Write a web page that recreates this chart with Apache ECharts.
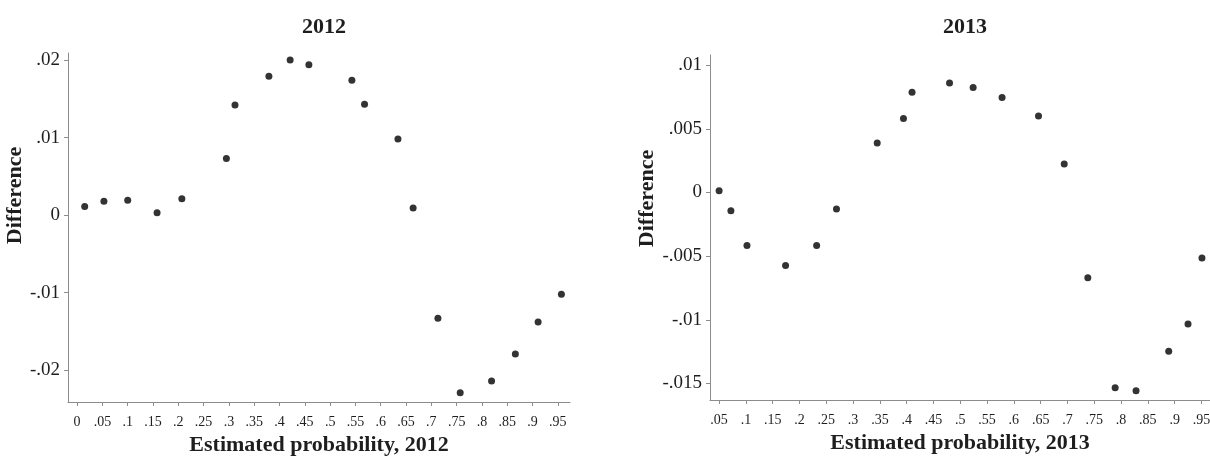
<!DOCTYPE html>
<html>
<head>
<meta charset="utf-8">
<script src="https://cdn.jsdelivr.net/npm/echarts@6/dist/echarts.min.js"></script>
<style>
  html, body { margin: 0; padding: 0; background: #ffffff; }
  #chart { width: 1210px; height: 456px; }
</style>
</head>
<body>
<div id="chart"></div>
<script>
// Difference by estimated probability, 2012
const prob2012 = [0.015, 0.053, 0.100, 0.158, 0.207, 0.295, 0.312, 0.379, 0.421, 0.458,
                  0.543, 0.568, 0.634, 0.664, 0.713, 0.757, 0.819, 0.866, 0.911, 0.957];
const diff2012 = [0.0011, 0.0018, 0.0019, 0.0003, 0.0021, 0.0073, 0.0142, 0.0179, 0.0200, 0.0194,
                  0.0174, 0.0143, 0.0098, 0.0009, -0.0133, -0.0229, -0.0214, -0.0179, -0.0138, -0.0102];

// Difference by estimated probability, 2013
const prob2013 = [0.050, 0.072, 0.102, 0.174, 0.232, 0.269, 0.345, 0.394, 0.410, 0.480,
                  0.524, 0.578, 0.646, 0.694, 0.738, 0.789, 0.828, 0.889, 0.925, 0.951];
const diff2013 = [0.00013, -0.00144, -0.00416, -0.00573, -0.00416, -0.0013, 0.00388, 0.00581, 0.00788, 0.00861,
                  0.00824, 0.00746, 0.0060, 0.00223, -0.0067, -0.01533, -0.01557, -0.01248, -0.01033, -0.00515];

// Tick positions
const xTicks2012 = [0, 0.05, 0.1, 0.15, 0.2, 0.25, 0.3, 0.35, 0.4, 0.45, 0.5, 0.55, 0.6, 0.65, 0.7, 0.75, 0.8, 0.85, 0.9, 0.95];
const yTicks2012 = [-0.02, -0.01, 0, 0.01, 0.02];
const xTicks2013 = [0.05, 0.1, 0.15, 0.2, 0.25, 0.3, 0.35, 0.4, 0.45, 0.5, 0.55, 0.6, 0.65, 0.7, 0.75, 0.8, 0.85, 0.9, 0.95];
const yTicks2013 = [-0.015, -0.01, -0.005, 0, 0.005, 0.01];

const FONT = '"Liberation Serif", "DejaVu Serif", serif';
const AXIS_COLOR = '#8c8c8c';
const TEXT_COLOR = '#1e1e1e';

// Drop the leading zero: 0.05 -> .05, -0.01 -> -.01
function fmt(v) {
  const s = String(+(+v).toFixed(4));
  return s.replace(/^(-?)0\./, '$1.');
}

function xAxisFor(idx, ticks, min, max, name) {
  return {
    type: 'value', gridIndex: idx, min: min, max: max,
    name: name, nameLocation: 'middle', nameGap: 31,
    nameTextStyle: { fontFamily: FONT, fontWeight: 'bold', fontSize: 22, color: TEXT_COLOR },
    axisLine: { show: true, onZero: false, lineStyle: { color: AXIS_COLOR, width: 1 } },
    axisTick: { show: true, length: 4, customValues: ticks, lineStyle: { color: AXIS_COLOR } },
    axisLabel: { customValues: ticks, formatter: fmt, margin: 13, fontFamily: FONT, fontSize: 14, color: TEXT_COLOR },
    splitLine: { show: false }
  };
}

function yAxisFor(idx, ticks, min, max, gap, shift) {
  return {
    type: 'value', gridIndex: idx, min: min, max: max,
    name: 'Difference', nameLocation: 'middle', nameGap: gap, nameRotate: 90,
    nameTextStyle: { fontFamily: FONT, fontWeight: 'bold', fontSize: 22, color: TEXT_COLOR,
                     padding: [0, 0, 0, shift] },
    axisLine: { show: true, onZero: false, lineStyle: { color: AXIS_COLOR, width: 1 } },
    axisTick: { show: true, length: 4, customValues: ticks, lineStyle: { color: AXIS_COLOR } },
    axisLabel: { customValues: ticks, formatter: fmt, margin: 8, fontFamily: FONT, fontSize: 19, color: TEXT_COLOR },
    splitLine: { show: false }
  };
}

function pairs(xs, ys) {
  return xs.map((x, i) => [x, ys[i]]);
}

const chart = echarts.init(document.getElementById('chart'), null, { renderer: 'canvas' });
chart.setOption({
  backgroundColor: '#ffffff',
  animation: false,
  title: [
    { text: '2012', left: 319, top: 11, textAlign: 'center',
      textStyle: { fontFamily: FONT, fontWeight: 'bold', fontSize: 22, color: TEXT_COLOR } },
    { text: '2013', left: 960, top: 11, textAlign: 'center',
      textStyle: { fontFamily: FONT, fontWeight: 'bold', fontSize: 22, color: TEXT_COLOR } }
  ],
  grid: [
    { left: 68, top: 53, width: 502, height: 349, containLabel: false, outerBoundsMode: 'none' },
    { left: 710, top: 55, width: 500, height: 345, containLabel: false, outerBoundsMode: 'none' }
  ],
  xAxis: [
    xAxisFor(0, xTicks2012, -0.018, 0.974, 'Estimated probability, 2012'),
    xAxisFor(1, xTicks2013, 0.033, 0.966, 'Estimated probability, 2013')
  ],
  yAxis: [
    yAxisFor(0, yTicks2012, -0.0241, 0.0209, 33, 64),
    yAxisFor(1, yTicks2013, -0.0163, 0.0108, 48, 58)
  ],
  series: [
    { type: 'scatter', xAxisIndex: 0, yAxisIndex: 0, data: pairs(prob2012, diff2012),
      symbol: 'circle', symbolSize: 7, itemStyle: { color: '#000000' } },
    { type: 'scatter', xAxisIndex: 1, yAxisIndex: 1, data: pairs(prob2013, diff2013),
      symbol: 'circle', symbolSize: 7, itemStyle: { color: '#000000' } }
  ]
});
</script>
</body>
</html>
